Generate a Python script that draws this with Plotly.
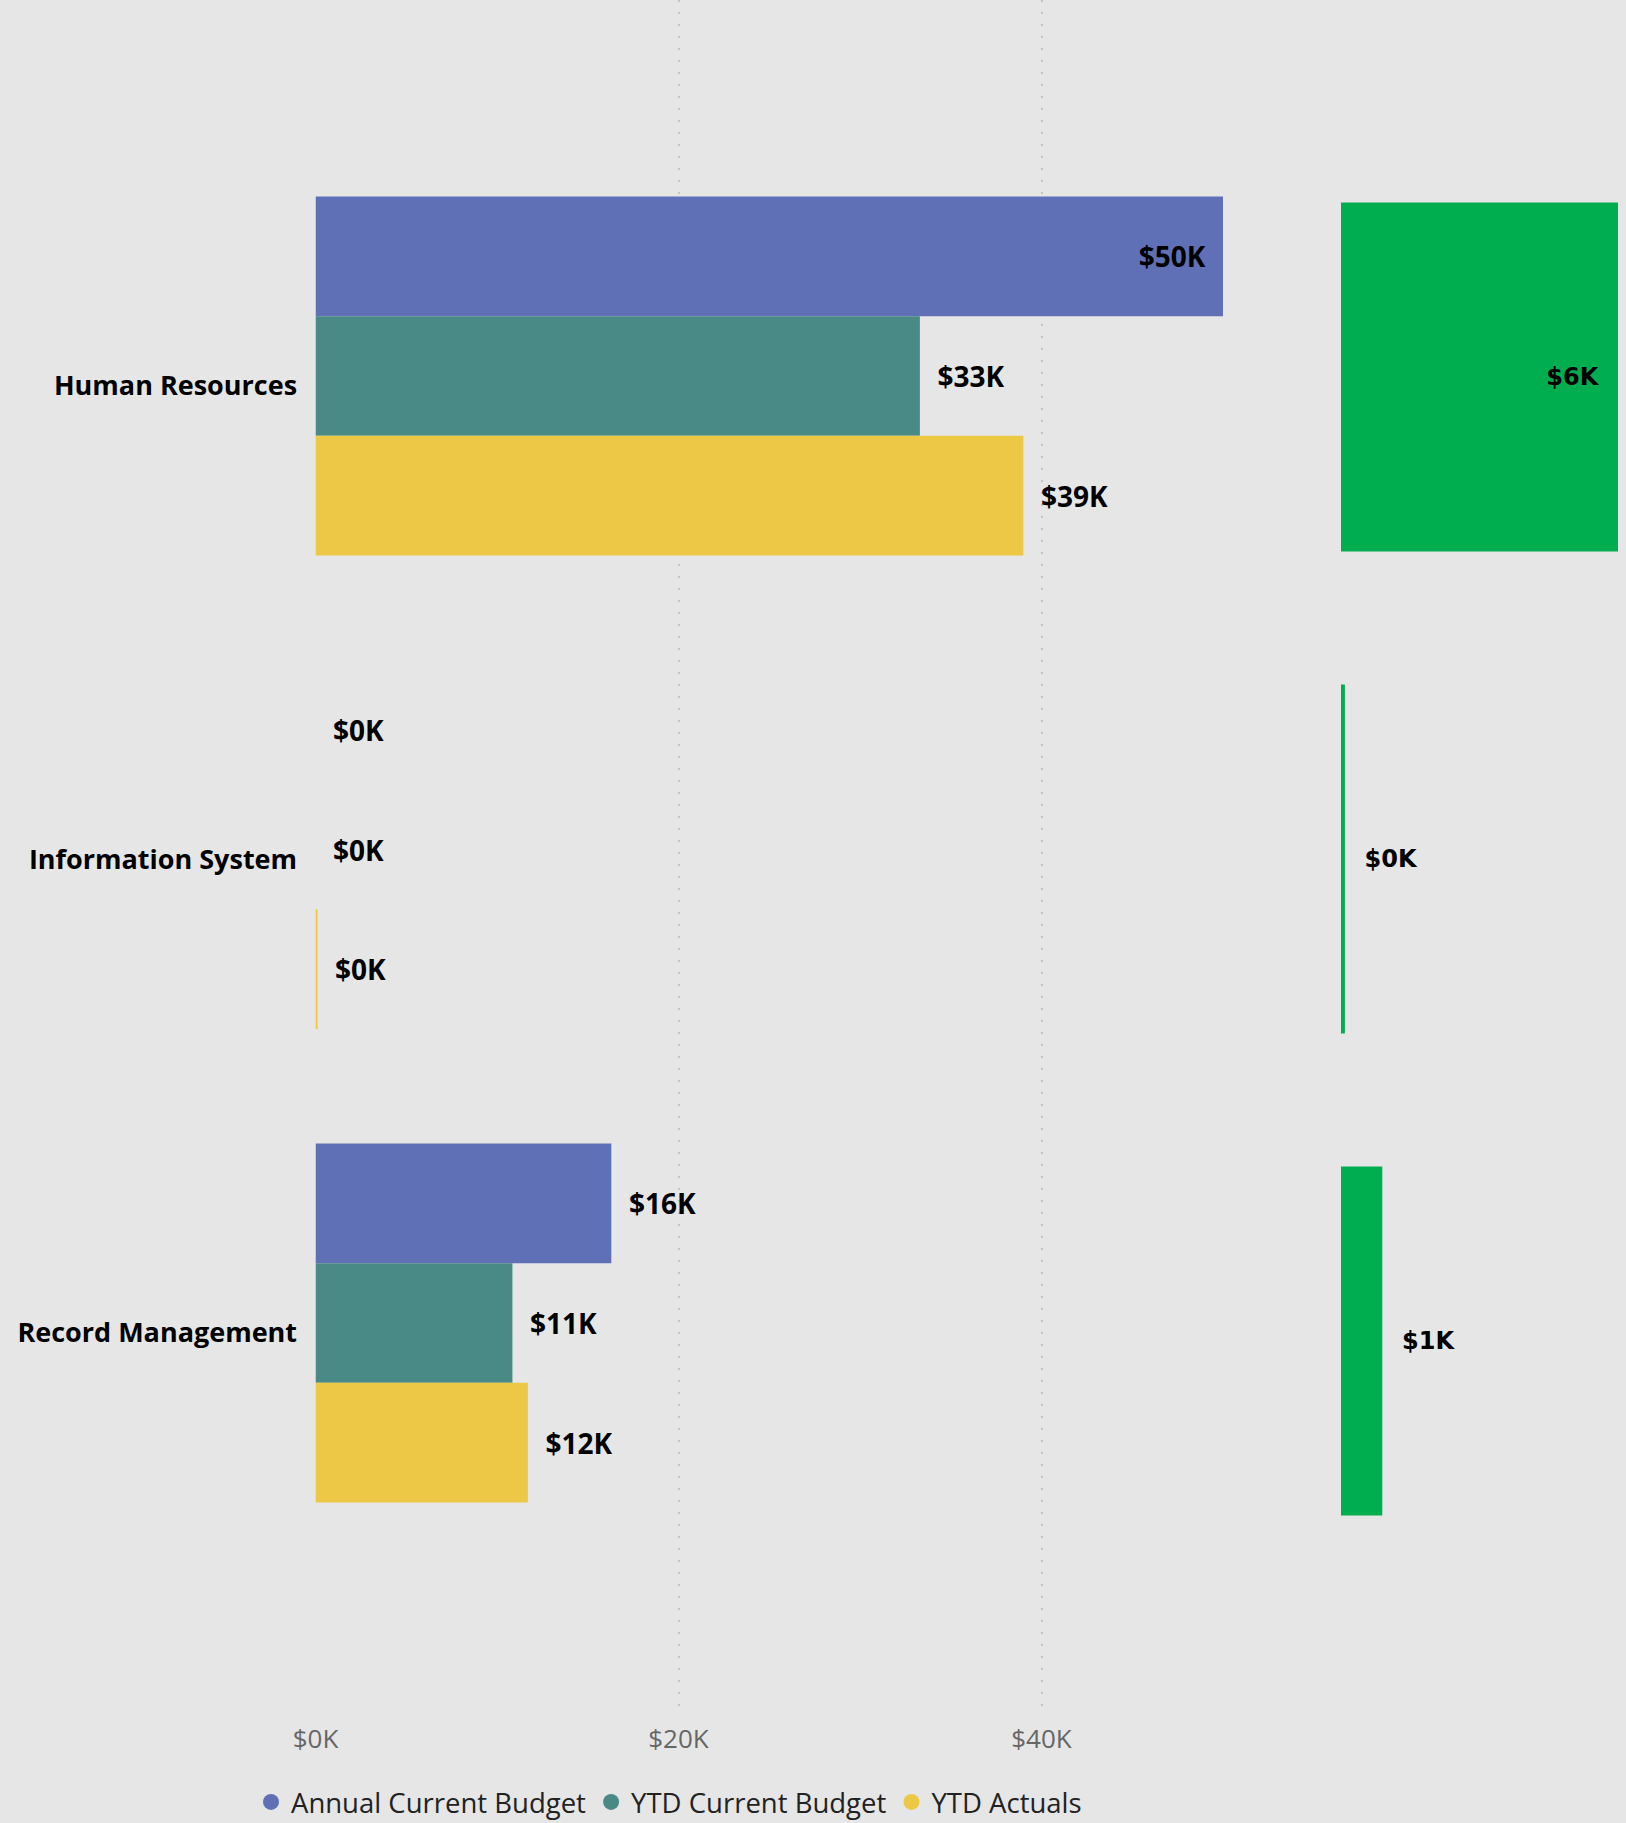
import plotly.graph_objects as go

categories = ["Human Resources", "Information System", "Record Management"]
annual_budget = [50.0, 0.0, 16.3]      # $K
ytd_budget = [33.3, 0.0, 10.85]        # $K
ytd_actuals = [39.0, 0.08, 11.7]       # $K
variance = [5.7, 0.08, 0.85]           # $K
tick_vals = [0, 20, 40]
tick_text = ["$0K", "$20K", "$40K"]

series_names = ["Annual Current Budget", "YTD Current Budget", "YTD Actuals"]
colors = ["#6070B6", "#4A8A86", "#ECC846"]
green = "#00AE50"
bg = "#E6E6E6"
NB = "\u00a0\u00a0"

W, H = 1626, 1823
plot_bottom = 1712

def lab(v):
    return f"${round(v)}K"

fig = go.Figure()
label_font = dict(family="Open Sans", size=28, color="#000000", weight="bold")

for name, vals, col in zip(series_names, [annual_budget, ytd_budget, ytd_actuals], colors):
    texts, pos = [], []
    for v in vals:
        if v >= 45:
            texts.append(lab(v) + NB)
            pos.append("inside")
        else:
            texts.append(NB + lab(v))
            pos.append("outside")
    fig.add_trace(go.Bar(
        y=categories, x=vals, orientation="h", name=name,
        marker=dict(color=col, line=dict(width=0)),
        text=texts, textposition=pos, insidetextanchor="end",
        textfont=label_font, insidetextfont=label_font, outsidetextfont=label_font,
        constraintext="none", cliponaxis=False, showlegend=False,
        xaxis="x", yaxis="y",
    ))

gfont = dict(family="DejaVu Sans", size=24, color="#000000", weight="bold")
gtext, gpos = [], []
for v in variance:
    if v >= 3:
        gtext.append(lab(v) + NB)
        gpos.append("inside")
    else:
        gtext.append(NB + lab(v))
        gpos.append("outside")
fig.add_trace(go.Bar(
    y=categories, x=variance, orientation="h", name="Variance",
    marker=dict(color=green, line=dict(width=0)), width=0.724,
    text=gtext, textposition=gpos, insidetextanchor="end",
    textfont=gfont, insidetextfont=gfont, outsidetextfont=gfont,
    constraintext="none", cliponaxis=False, showlegend=False,
    xaxis="x2", yaxis="y2",
))

# legend entries with circle markers
for name, col in zip(series_names, colors):
    fig.add_trace(go.Scatter(
        x=[None], y=[None], mode="markers", name=name,
        marker=dict(symbol="circle", size=19, color=col),
        xaxis="x", yaxis="y", showlegend=True,
    ))

main_top = -376 / 473.5
main_bot = (plot_bottom - 376) / 473.5
g_top = -377 / 482
g_bot = (plot_bottom - 377) / 482

fig.update_layout(
    width=W, height=H,
    paper_bgcolor=bg, plot_bgcolor=bg,
    margin=dict(l=0, r=0, t=0, b=H - plot_bottom, autoexpand=False),
    barmode="group", bargap=0.242, bargroupgap=0,
    xaxis=dict(
        domain=[315.5 / W, 1300 / W], range=[0, (1300 - 315.5) / 18.15],
        tickvals=tick_vals, ticktext=tick_text,
        tickfont=dict(family="Open Sans", size=26, color="#666666"),
        showgrid=True, gridcolor="#C4C4C4", gridwidth=1.5, griddash="2px,10px",
        zeroline=False, showline=False,
        ticks="outside", ticklen=4, tickcolor="rgba(0,0,0,0)",
        anchor="y", automargin=False,
    ),
    yaxis=dict(
        domain=[0, 1], type="category", categoryorder="array", categoryarray=categories,
        range=[main_bot, main_top],
        tickfont=dict(family="Open Sans", size=27, color="#000000", weight="bold"),
        showgrid=False, zeroline=False, showline=False,
        ticks="outside", ticklen=12, tickcolor="rgba(0,0,0,0)",
        ticklabelshift=-10,
        anchor="x", automargin=False,
    ),
    xaxis2=dict(
        domain=[1341 / W, 1618 / W], range=[0, 5.7],
        showgrid=False, zeroline=False, showline=False, showticklabels=False,
        anchor="y2", automargin=False,
    ),
    yaxis2=dict(
        domain=[0, 1], type="category", categoryorder="array", categoryarray=categories,
        range=[g_bot, g_top],
        showgrid=False, zeroline=False, showline=False, showticklabels=False,
        anchor="x2", automargin=False,
    ),
    legend=dict(
        orientation="h", x=251 / W, xanchor="left",
        y=(plot_bottom - 1802) / plot_bottom, yanchor="middle",
        font=dict(family="Open Sans", size=27.5, color="#222222"),
        bgcolor="rgba(0,0,0,0)", itemwidth=30, tracegroupgap=0,
    ),
    showlegend=True,
)

fig.write_html(
    "out.html",
    config={"displayModeBar": False},
    post_script="document.body.style.margin='0px';document.body.style.overflow='hidden';",
)
